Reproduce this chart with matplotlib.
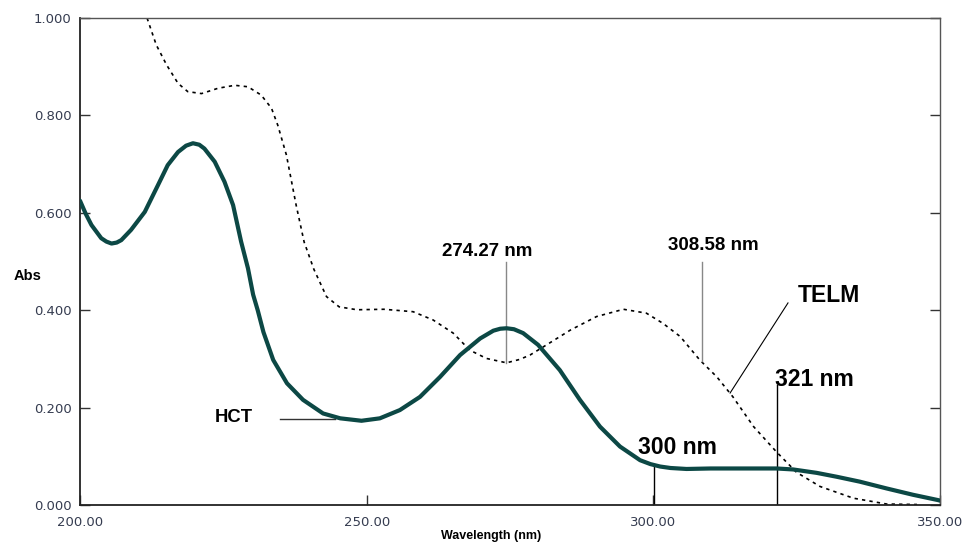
import matplotlib.pyplot as plt
from matplotlib.ticker import FormatStrFormatter

# HCT spectrum (thick teal curve)
hct_nm = [200.0, 201.0, 202.0, 203.7, 204.6, 205.5, 206.4, 207.2, 208.9, 211.3,
          213.6, 215.3, 217.1, 218.5, 219.7, 220.8, 221.7, 223.5, 225.2, 226.7,
          228.1, 229.3, 230.2, 231.0, 232.0, 233.7, 236.1, 238.9, 242.4, 245.4,
          249.1, 252.3, 255.8, 259.3, 262.8, 266.3, 269.8, 272.1, 273.3, 274.4,
          275.7, 277.3, 279.9, 283.7, 287.2, 290.7, 294.2, 297.7, 299.5, 301.2,
          303.0, 305.8, 310.0, 314.5, 318.6, 321.5, 324.4, 328.5, 332.0, 336.0,
          340.7, 345.3, 349.7, 350.0]
hct_abs = [0.625, 0.598, 0.575, 0.548, 0.541, 0.537, 0.539, 0.544, 0.565, 0.602,
           0.657, 0.698, 0.725, 0.738, 0.743, 0.740, 0.732, 0.705, 0.664, 0.616,
           0.541, 0.486, 0.432, 0.400, 0.355, 0.298, 0.250, 0.216, 0.188, 0.178,
           0.173, 0.178, 0.195, 0.222, 0.263, 0.308, 0.342, 0.358, 0.362, 0.363,
           0.361, 0.353, 0.329, 0.277, 0.216, 0.161, 0.120, 0.092, 0.084, 0.079,
           0.076, 0.074, 0.075, 0.075, 0.075, 0.075, 0.073, 0.066, 0.058, 0.048,
           0.034, 0.021, 0.010, 0.009]

# TELM spectrum (dotted curve)
telm_nm = [211.7, 213.3, 215.1, 217.1, 218.8, 221.2, 224.1, 227.0, 229.3, 231.6,
           233.4, 234.5, 236.0, 237.7, 239.1, 240.8, 243.0, 245.2, 248.3, 253.0,
           258.1, 261.6, 265.1, 268.0, 270.9, 274.4, 276.7, 278.5, 281.4, 285.5,
           290.1, 294.8, 298.8, 301.7, 304.7, 308.1, 311.1, 313.9, 317.5, 321.5,
           325.0, 329.1, 334.9, 340.7, 346.0]
telm_abs = [1.000, 0.945, 0.904, 0.866, 0.849, 0.845, 0.856, 0.862, 0.859, 0.842,
            0.815, 0.780, 0.719, 0.616, 0.540, 0.484, 0.428, 0.407, 0.401, 0.402,
            0.397, 0.380, 0.353, 0.318, 0.301, 0.292, 0.299, 0.308, 0.329, 0.359,
            0.387, 0.402, 0.394, 0.373, 0.346, 0.298, 0.263, 0.222, 0.161, 0.109,
            0.067, 0.038, 0.014, 0.002, 0.001]

x_ticks = [200, 250, 300, 350]
y_ticks = [0.0, 0.2, 0.4, 0.6, 0.8, 1.0]

fig = plt.figure(figsize=(9.64, 5.44), dpi=100)
ax = fig.add_axes([0.083, 0.0717, 0.892, 0.895])

ax.plot(hct_nm, hct_abs, color='#0c4845', linewidth=3.0, zorder=3,
        solid_joinstyle='round', solid_capstyle='round')
ax.plot(telm_nm, telm_abs, color='black', linewidth=1.2,
        linestyle=(0, (2.0, 2.5)), zorder=2)

ax.set_xlim(200, 350)
ax.set_ylim(0, 1.0)
ax.set_xticks(x_ticks)
ax.set_yticks(y_ticks)
ax.xaxis.set_major_formatter(FormatStrFormatter('%.2f'))
ax.yaxis.set_major_formatter(FormatStrFormatter('%.3f'))
ax.tick_params(direction='in', length=7, width=1, colors='#333333',
               labelcolor='#353c50', labelsize=9.5, right=True)
ax.tick_params(axis='x', pad=8)
ax.tick_params(axis='y', pad=6)
for side in ['left', 'bottom']:
    ax.spines[side].set_linewidth(1.3)
    ax.spines[side].set_color('#222222')
for side in ['top', 'right']:
    ax.spines[side].set_linewidth(1.0)
    ax.spines[side].set_color('#555555')

bold = dict(fontweight='bold', family='Liberation Sans', color='black')

# peak markers
ax.plot([274.27, 274.27], [0.292, 0.499], color='#888888', linewidth=1.0)
ax.text(271.0, 0.520, '274.27 nm', ha='center', va='center', fontsize=13.5, **bold)
ax.plot([308.58, 308.58], [0.296, 0.499], color='#888888', linewidth=1.0)
ax.text(310.4, 0.534, '308.58 nm', ha='center', va='center', fontsize=13.5, **bold)

ax.plot([313.4, 323.5], [0.230, 0.415], color='black', linewidth=0.8)
ax.text(330.6, 0.431, 'TELM', ha='center', va='center', fontsize=16.5, **bold)

ax.plot([321.6, 321.6], [0.0, 0.246], color='black', linewidth=1.0)
ax.text(321.3, 0.257, '321 nm', ha='left', va='center', fontsize=16.5, **bold)

ax.plot([300.1, 300.1], [0.0, 0.079], color='black', linewidth=1.0)
ax.text(304.3, 0.119, '300 nm', ha='center', va='center', fontsize=16.5, **bold)

ax.plot([234.9, 244.5], [0.177, 0.177], color='#333333', linewidth=1.0)
ax.text(226.9, 0.179, 'HCT', ha='center', va='center', fontsize=13.3, **bold)

ax.set_ylabel('Abs', rotation=0, fontsize=10.5, **bold)
ax.yaxis.set_label_coords(-0.061, 0.455)
ax.set_xlabel('Wavelength (nm)', fontsize=9, **bold)
ax.xaxis.set_label_coords(0.478, -0.052)

fig.savefig('out.png', dpi=100)
